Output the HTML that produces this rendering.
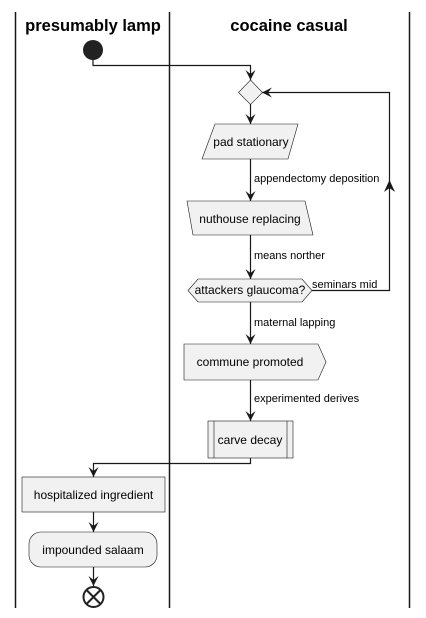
<!DOCTYPE html>
<html><head><meta charset="utf-8"><style>html,body{margin:0;padding:0;background:#fff}svg{display:block}</style></head>
<body>
<svg width="426" height="618" xmlns="http://www.w3.org/2000/svg" font-family="Liberation Sans, Arial, sans-serif">
<defs>
<marker id="ar" viewBox="0 0 10 10" refX="10" refY="5" markerWidth="10" markerHeight="10" markerUnits="userSpaceOnUse" orient="auto">
<path d="M0,0 L10,5 L0,10 L4,5 Z" fill="#181818"/>
</marker>
</defs>
<g stroke="#181818" stroke-width="1.5">
<line x1="15.5" y1="12" x2="15.5" y2="608"/>
<line x1="169.5" y1="12" x2="169.5" y2="608"/>
<line x1="409.5" y1="12" x2="409.5" y2="608"/>
</g>
<g font-size="16.5" font-weight="bold" fill="#000" text-anchor="middle">
<text x="93" y="31">presumably lamp</text>
<text x="289" y="31">cocaine casual</text>
</g>
<circle cx="93" cy="50" r="10" fill="#222"/>
<g stroke="#181818" stroke-width="1.2" fill="none">
<polyline points="93,60 93,65.5 250.5,65.5 250.5,80" marker-end="url(#ar)"/>
<line x1="250.5" y1="104" x2="250.5" y2="124" marker-end="url(#ar)"/>
<line x1="250.5" y1="159" x2="250.5" y2="201" marker-end="url(#ar)"/>
<line x1="250.5" y1="235" x2="250.5" y2="279" marker-end="url(#ar)"/>
<line x1="250.5" y1="302" x2="250.5" y2="344" marker-end="url(#ar)"/>
<line x1="250.5" y1="380" x2="250.5" y2="421" marker-end="url(#ar)"/>
<polyline points="312,290.5 389.5,290.5 389.5,92.5 262,92.5" marker-end="url(#ar)"/>
<polyline points="250.5,458 250.5,463.5 93.5,463.5 93.5,477" marker-end="url(#ar)"/>
<line x1="93.5" y1="512" x2="93.5" y2="532" marker-end="url(#ar)"/>
<line x1="93.5" y1="567" x2="93.5" y2="586" marker-end="url(#ar)"/>
</g>
<path d="M389.5,180 L384,192 L389.5,188 L395,192 Z" fill="#181818"/>
<g fill="#f1f1f1" stroke="#181818" stroke-width="0.6">
<polygon points="250.5,80 262.5,92.5 250.5,104.5 238.5,92.5"/>
<polygon points="215,124 298,124 288,159 202,159"/>
<polygon points="187,201 305,201 313,235 193,235"/>
<polygon points="188,290.5 198,279 302,279 312,290.5 302,302 198,302"/>
<polygon points="184,344 318,344 326,362 318,380 184,380"/>
<rect x="208" y="421" width="85" height="37"/>
<line x1="214" y1="421" x2="214" y2="458"/>
<line x1="287" y1="421" x2="287" y2="458"/>
<rect x="22" y="477" width="143" height="35"/>
<rect x="29" y="532" width="128" height="35" rx="12"/>
</g>
<circle cx="93.5" cy="597" r="10" fill="#fff" stroke="#222" stroke-width="2"/>
<g stroke="#222" stroke-width="2"><line x1="86.5" y1="590" x2="100.5" y2="604"/><line x1="100.5" y1="590" x2="86.5" y2="604"/></g>
<g font-size="12" fill="#000" text-anchor="middle">
<text x="251" y="146">pad stationary</text>
<text x="250" y="223">nuthouse replacing</text>
<text x="250" y="294">attackers glaucoma?</text>
<text x="250" y="366">commune promoted</text>
<text x="250" y="444">carve decay</text>
<text x="93.5" y="499">hospitalized ingredient</text>
<text x="93" y="554">impounded salaam</text>
</g>
<g font-size="11" fill="#000">
<text x="254" y="182">appendectomy deposition</text>
<text x="254" y="259">means norther</text>
<text x="312" y="288">seminars mid</text>
<text x="254" y="326">maternal lapping</text>
<text x="254" y="402">experimented derives</text>
</g>
</svg>
</body></html>
